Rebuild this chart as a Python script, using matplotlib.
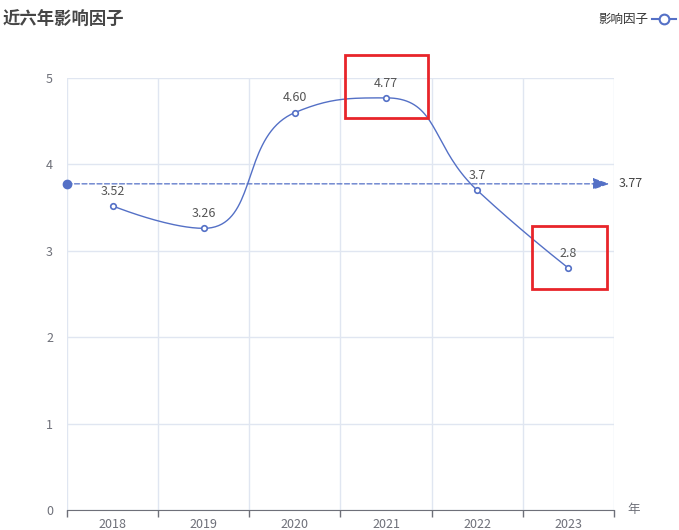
import numpy as np
import matplotlib.pyplot as plt
from matplotlib.patches import Rectangle

plt.rcParams['font.family'] = ['Noto Sans CJK SC', 'DejaVu Sans']

years = ['2018', '2019', '2020', '2021', '2022', '2023']
values = [3.52, 3.26, 4.60, 4.77, 3.7, 2.8]
labels = ['3.52', '3.26', '4.60', '4.77', '3.7', '2.8']
title = '近六年影响因子'
series_name = '影响因子'

blue = '#5470c6'
grey = '#6e7079'


def clamp(v, a, b):
    return min(max(v, min(a, b)), max(a, b))


def smooth_curve(xs, ys, sx, sy, smooth=0.5, n=40):
    # echarts-style bezier smoothing (with clamping), in approx. pixel space
    px = [float(v) * sx for v in xs]
    py = [float(v) * sy for v in ys]
    m = len(px)
    cps = []
    for i in range(m):
        x, y = px[i], py[i]
        if i == 0 or i == m - 1:
            cps.append(((x, y), (x, y)))
            continue
        prx, pry = px[i - 1], py[i - 1]
        nx, ny = px[i + 1], py[i + 1]
        vx, vy = nx - prx, ny - pry
        l0 = np.hypot(x - prx, y - pry)
        l1 = np.hypot(nx - x, ny - y)
        r = l1 / (l0 + l1)
        c1x, c1y = x + vx * smooth * r, y + vy * smooth * r
        c1x, c1y = clamp(c1x, x, nx), clamp(c1y, y, ny)
        vx, vy = c1x - x, c1y - y
        c0x, c0y = x - vx * l0 / l1, y - vy * l0 / l1
        c0x, c0y = clamp(c0x, prx, x), clamp(c0y, pry, y)
        vx, vy = x - c0x, y - c0y
        c1x, c1y = x + vx * l1 / l0, y + vy * l1 / l0
        cps.append(((c0x, c0y), (c1x, c1y)))
    outx, outy = [], []
    t = np.linspace(0, 1, n)
    for i in range(m - 1):
        p0 = np.array([px[i], py[i]])
        p1 = np.array(cps[i][1])
        p2 = np.array(cps[i + 1][0])
        p3 = np.array([px[i + 1], py[i + 1]])
        pts = ((1 - t)[:, None] ** 3 * p0 + 3 * ((1 - t) ** 2 * t)[:, None] * p1
               + 3 * ((1 - t) * t ** 2)[:, None] * p2 + (t ** 3)[:, None] * p3)
        outx.extend(pts[:, 0])
        outy.extend(pts[:, 1])
    return np.array(outx) / sx, np.array(outy) / sy


fig = plt.figure(figsize=(6.79, 5.30), dpi=100)
ax = fig.add_axes([67 / 679, 20 / 530, 547 / 679, 432 / 530])

x = np.arange(len(years))
cx, cy = smooth_curve(x, values, 91.2, 86.4)
ax.plot(cx, cy, color=blue, lw=1, zorder=3)
ax.plot(x, values, 'o', ms=4, mfc='white', mec=blue, mew=1.2, zorder=4)
for xi, v, lab in zip(x, values, labels):
    ax.annotate(lab, (xi, v), xytext=(0, 6), textcoords='offset points',
                ha='center', va='bottom', fontsize=9, color='#555555', zorder=5)

# average line
mean = np.mean(values)
ax.annotate('', xy=(5.45, mean), xytext=(-0.5, mean),
            arrowprops=dict(arrowstyle='-|>,head_length=1.0,head_width=0.35',
                            color=blue, lw=0.9, ls=(0, (4, 2)), shrinkA=0, shrinkB=0),
            annotation_clip=False, zorder=3)
ax.plot([-0.5], [mean], 'o', ms=6, color=blue, clip_on=False, zorder=4)
ax.text(5.55, mean, f'{mean:.2f}', va='center', ha='left', fontsize=9, color='#444444')

# red highlight boxes
ax.add_patch(Rectangle((2.55, 4.54), 0.91, 0.73, fill=False, ec='#e8252a', lw=2, clip_on=False, zorder=6))
ax.add_patch(Rectangle((4.6, 2.56), 0.82, 0.73, fill=False, ec='#e8252a', lw=2, clip_on=False, zorder=6))

ax.set_xlim(-0.5, 5.5)
ax.set_ylim(0, 5)
ax.set_xticks(np.arange(-0.5, 6, 1))
ax.set_xticklabels([])
ax.set_xticks(x, minor=True)
ax.set_xticklabels(years, minor=True)
ax.tick_params(axis='x', which='major', length=5, color=grey, width=1)
ax.tick_params(axis='x', which='minor', length=0, pad=6, labelsize=9, labelcolor=grey)
ax.set_yticks(range(6))
ax.tick_params(axis='y', length=0, pad=10, labelsize=9, labelcolor=grey)
ax.grid(True, which='major', color='#e0e6f1', lw=1)
ax.set_axisbelow(True)
for s in ['top', 'right', 'left']:
    ax.spines[s].set_visible(False)
ax.spines['bottom'].set_color(grey)
ax.text(1.025, 0.0, '年', transform=ax.transAxes, fontsize=9, color=grey, va='center', ha='left')

fig.text(3 / 679, 1 - 20 / 530, title, fontsize=12.5, fontweight='bold', color='#464646', va='center')
fig.text(648 / 679, 1 - 19 / 530, series_name, fontsize=9, color='#333333', va='center', ha='right')
fig.lines.append(plt.Line2D([652 / 679, 676 / 679], [1 - 19 / 530] * 2, color=blue, lw=1.5,
                            transform=fig.transFigure))
fig.lines.append(plt.Line2D([664 / 679], [1 - 19 / 530], marker='o', ms=7, mfc='white', mec=blue,
                            mew=1.5, transform=fig.transFigure))

fig.savefig('out.png', dpi=100)
